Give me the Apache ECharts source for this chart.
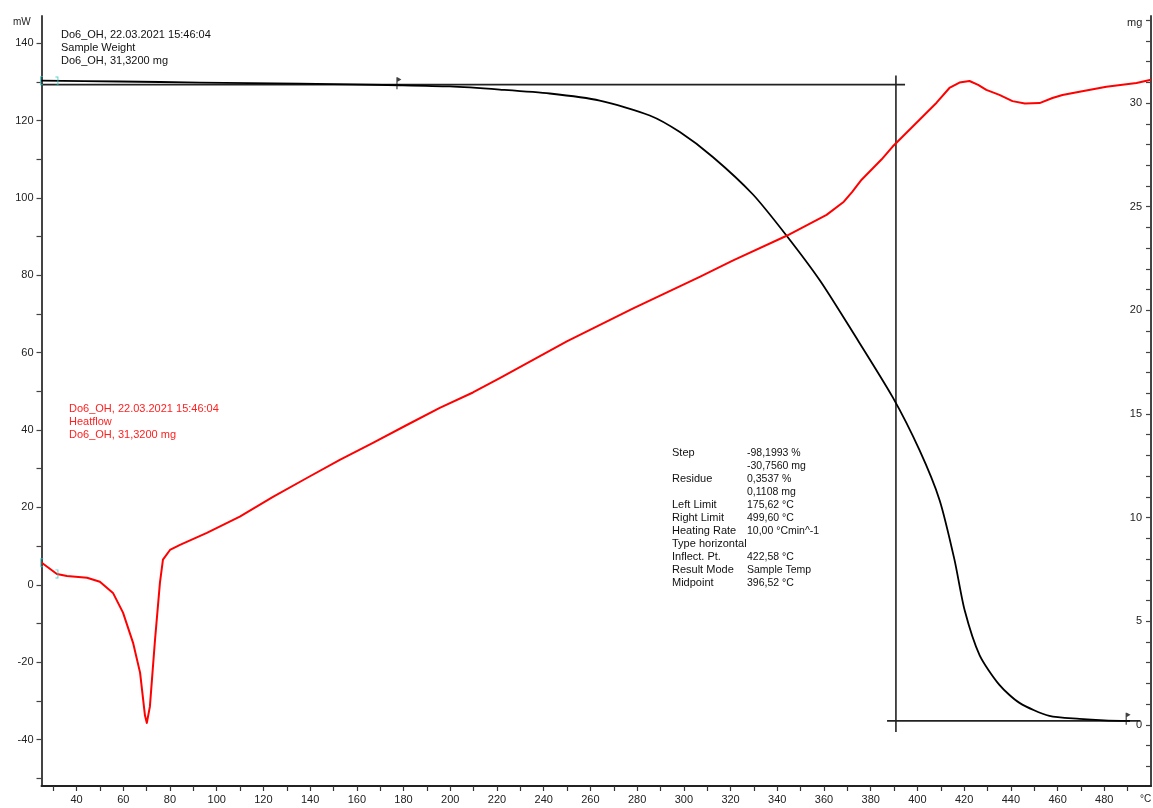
<!DOCTYPE html>
<html>
<head>
<meta charset="utf-8">
<title>Do6_OH</title>
<script src="https://cdn.jsdelivr.net/npm/echarts@6/dist/echarts.min.js"></script>
<style>
  html, body { margin: 0; padding: 0; background: #fff; }
  #chart { width: 1153px; height: 808px; }
</style>
</head>
<body>
<div id="chart"></div>
<script>
// Do6_OH: heatflow (mW, left) and sample weight (mg, right) over temperature

const heatTemp = [25.1, 31.6, 35.9, 44.5, 50.0, 55.6, 59.9, 64.2, 67.2, 69.3, 70.1, 71.4, 73.6, 75.7, 77.0, 80.0, 84.3, 95.8, 109.9, 124.1, 138.6, 152.7, 166.9, 181.4, 195.5, 209.7, 221.2, 249.9, 278.1, 306.8, 320.9, 344.0, 361.1, 368.5, 372.0, 376.1, 384.6, 389.3, 400.9, 408.2, 413.7, 418.0, 422.3, 426.0, 429.5, 435.1, 440.7, 446.0, 452.3, 457.8, 462.1, 469.4, 480.9, 493.8, 500];
const heatflow = [5.7, 2.8, 2.3, 1.8, 0.8, -2.1, -7.2, -15.0, -22.7, -33.8, -35.7, -31.5, -14.2, 0.5, 6.5, 9.0, 10.3, 13.4, 17.6, 22.7, 27.6, 32.3, 36.7, 41.3, 45.7, 49.7, 53.4, 62.9, 71.4, 79.6, 83.8, 90.2, 95.6, 99.0, 101.5, 104.7, 109.9, 113.2, 120.2, 124.6, 128.4, 129.8, 130.2, 129.2, 127.9, 126.6, 125.0, 124.4, 124.5, 125.8, 126.6, 127.4, 128.7, 129.7, 130.5];

const weightTemp = [25, 58.6, 92.8, 135.6, 178.4, 199.8, 221.2, 242.6, 264.0, 285.4, 298.3, 312.4, 329.5, 344.0, 358.2, 372.3, 389.4, 400.9, 409.5, 415.9, 420.2, 426.6, 435.1, 443.7, 456.5, 469.4, 480.0, 491.0];
const weight = [31.08, 31.04, 30.99, 30.94, 30.86, 30.80, 30.65, 30.46, 30.12, 29.40, 28.60, 27.40, 25.60, 23.60, 21.45, 18.95, 15.81, 13.25, 10.84, 7.95, 5.54, 3.37, 1.93, 1.06, 0.43, 0.29, 0.22, 0.19];

// step evaluation construction lines (temperature, mg)
const stepTop = [[25, 30.89], [394.7, 30.89]];
const stepVert = [[390.8, 31.33], [390.8, -0.34]];
const stepBottom = [[387.0, 0.19], [495.3, 0.19]];
const limitFlags = [[178.0, 30.95], [490.2, 0.3]];

const xLabels = [40, 60, 80, 100, 120, 140, 160, 180, 200, 220, 240, 260, 280, 300, 320, 340, 360, 380, 400, 420, 440, 460, 480];
const xTicks = [30, 40, 50, 60, 70, 80, 90, 100, 110, 120, 130, 140, 150, 160, 170, 180, 190, 200, 210, 220, 230, 240, 250, 260, 270, 280, 290, 300, 310, 320, 330, 340, 350, 360, 370, 380, 390, 400, 410, 420, 430, 440, 450, 460, 470, 480, 490];
const mwLabels = [-40, -20, 0, 20, 40, 60, 80, 100, 120, 140];
const mwTicks = [-50, -40, -30, -20, -10, 0, 10, 20, 30, 40, 50, 60, 70, 80, 90, 100, 110, 120, 130, 140];
const mgLabels = [0, 5, 10, 15, 20, 25, 30];
const mgTicks = [-2, -1, 0, 1, 2, 3, 4, 5, 6, 7, 8, 9, 10, 11, 12, 13, 14, 15, 16, 17, 18, 19, 20, 21, 22, 23, 24, 25, 26, 27, 28, 29, 30, 31, 32, 33, 34];

const weightInfo = ['Do6_OH, 22.03.2021 15:46:04', 'Sample Weight', 'Do6_OH, 31,3200 mg'];
const heatInfo = ['Do6_OH, 22.03.2021 15:46:04', 'Heatflow', 'Do6_OH, 31,3200 mg'];
const resultNames = ['Step', '', 'Residue', '', 'Left Limit', 'Right Limit', 'Heating Rate', 'Type horizontal', 'Inflect. Pt.', 'Result Mode', 'Midpoint'];
const resultValues = ['-98,1993 %', '-30,7560 mg', '0,3537 %', '0,1108 mg', '175,62 °C', '499,60 °C', '10,00 °Cmin^-1', '', '422,58 °C', 'Sample Temp', '396,52 °C'];

const FONT = '"Liberation Sans", Arial, sans-serif';
const zip = (xs, ys) => xs.map((x, i) => [x, ys[i]]);

const bracketL = 'path://M0,0h3v1h-2v8h2v1h-3z';
const bracketR = 'path://M0,0h3v10h-3v-1h2v-8h-2z';
const flag = 'path://M0,0h1.2v12h-1.2z M1.2,0L5,2.2L1.2,4.4z';

function stepLine(data) {
  return {
    type: 'line', yAxisIndex: 1, data: data, showSymbol: false, silent: true,
    lineStyle: { color: '#222', width: 1.6 }, z: 1
  };
}

function textBlock(x, y, lines, color, size) {
  return {
    type: 'text', left: x, top: y,
    style: { text: lines.join('\n'), fill: color, font: (size || 11) + 'px ' + FONT, lineHeight: 13 }
  };
}

let chart = echarts.init(document.getElementById('chart'));

let option = {
  animation: false,
  backgroundColor: '#fff',
  grid: { left: 41.5, right: 2, top: 16, bottom: 22 },
  xAxis: {
    type: 'value', min: 25, max: 500,
    axisLine: { onZero: false, lineStyle: { color: '#222', width: 2 } },
    axisTick: { show: true, length: 5, customValues: xTicks, lineStyle: { color: '#333', width: 1.2 } },
    axisLabel: { customValues: xLabels, color: '#222', fontSize: 11, fontFamily: FONT, margin: 8 },
    splitLine: { show: false }
  },
  yAxis: [
    {
      type: 'value', position: 'left', min: -52, max: 147,
      axisLine: { show: true, onZero: false, lineStyle: { color: '#444', width: 2 } },
      axisTick: { show: true, length: 5, customValues: mwTicks, lineStyle: { color: '#444', width: 1.2 } },
      axisLabel: { customValues: mwLabels, color: '#222', fontSize: 11, fontFamily: FONT, margin: 8 },
      splitLine: { show: false }
    },
    {
      type: 'value', position: 'right', min: -2.95, max: 34.2,
      axisLine: { show: true, onZero: false, lineStyle: { color: '#444', width: 2 } },
      axisTick: { show: true, inside: true, length: 5, customValues: mgTicks, lineStyle: { color: '#444', width: 1.2 } },
      axisLabel: { inside: true, customValues: mgLabels, color: '#222', fontSize: 11, fontFamily: FONT, margin: 9 },
      splitLine: { show: false }
    }
  ],
  graphic: [
    textBlock(61, 28, weightInfo, '#111'),
    textBlock(69, 402, heatInfo, '#ff2020'),
    textBlock(672, 446, resultNames, '#111'),
    textBlock(747, 447, resultValues, '#111', 10.5),
    { type: 'text', left: 13, top: 17, style: { text: 'mW', fill: '#222', font: '10px ' + FONT } },
    { type: 'text', left: 1127, top: 17, style: { text: 'mg', fill: '#222', font: '11px ' + FONT } },
    { type: 'text', left: 1140, top: 794, style: { text: '°C', fill: '#222', font: '10px ' + FONT } }
  ],
  series: [
    stepLine(stepTop),
    stepLine(stepVert),
    stepLine(stepBottom),
    {
      name: 'Sample Weight', type: 'line', yAxisIndex: 1,
      data: zip(weightTemp, weight), showSymbol: false, smooth: 0.25,
      lineStyle: { color: '#000', width: 1.8 }, z: 3
    },
    {
      name: 'Heatflow', type: 'line', yAxisIndex: 0,
      data: zip(heatTemp, heatflow), showSymbol: false, smooth: false,
      lineStyle: { color: '#ff0000', width: 2, join: 'round' }, z: 4
    },
    {
      type: 'scatter', yAxisIndex: 1, data: limitFlags, symbol: flag, symbolSize: [5, 12],
      itemStyle: { color: '#111' }, z: 5
    },
    {
      type: 'scatter', yAxisIndex: 1, symbolSize: [3, 9], itemStyle: { color: '#33c8c8' }, z: 6,
      data: [
        { value: [weightTemp[0], weight[0]], symbol: bracketL },
        { value: [31.6, 31.06], symbol: bracketR }
      ]
    },
    {
      type: 'scatter', yAxisIndex: 0, symbolSize: [3, 9], itemStyle: { color: '#33c8c8' }, z: 6,
      data: [
        { value: [heatTemp[0], heatflow[0]], symbol: bracketL },
        { value: [heatTemp[1], heatflow[1]], symbol: bracketR }
      ]
    }
  ]
};

chart.setOption(option);
window.onresize = () => { chart.resize(); };
</script>
</body>
</html>
